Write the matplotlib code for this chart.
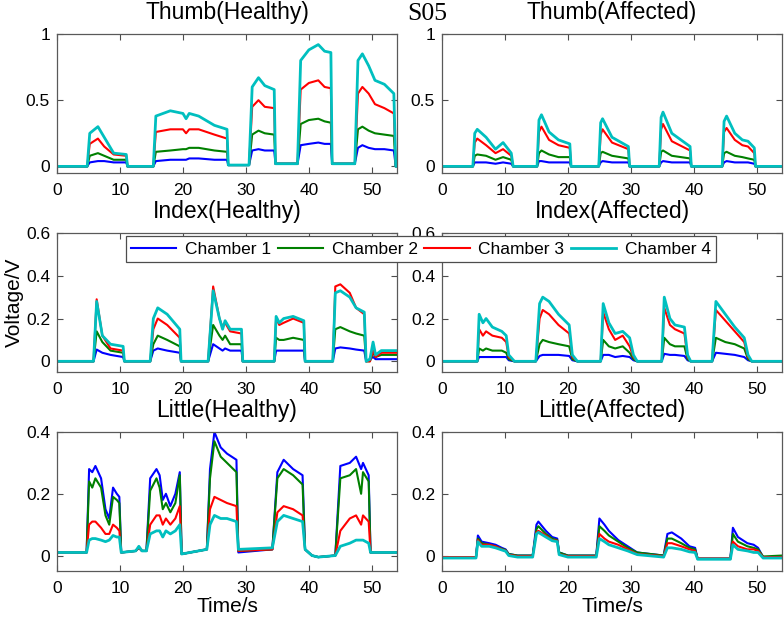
import numpy as np
import matplotlib
matplotlib.use('Agg')
import matplotlib.pyplot as plt

plt.rcParams['font.family'] = ['Liberation Sans', 'DejaVu Sans']

# ---- data (time in s, voltage in V) ----
# Thumb (Healthy)
t_th = [0, 4.8, 5.2, 6.5, 7.5, 9, 11, 11.2, 15.3, 15.7, 18, 20, 20.5, 21, 22.5, 25, 27, 27.2,
        30.5, 31, 32, 33, 34.5, 34.7, 38.2, 38.7, 40, 41.5, 42.5, 43.5, 43.7,
        47.3, 47.8, 48.5, 49.5, 50.5, 52, 53.5, 53.8, 54]
th_c1 = [0, 0, 0.03, 0.04, 0.04, 0.03, 0.03, 0, 0, 0.04, 0.05, 0.05, 0.05, 0.06, 0.06, 0.05, 0.05, 0.01,
         0.01, 0.12, 0.13, 0.12, 0.12, 0.02, 0.02, 0.16, 0.17, 0.18, 0.17, 0.17, 0.02,
         0.02, 0.14, 0.16, 0.14, 0.13, 0.13, 0.12, 0, 0]
th_c2 = [0, 0, 0.08, 0.10, 0.08, 0.05, 0.05, 0, 0, 0.11, 0.12, 0.13, 0.13, 0.14, 0.14, 0.12, 0.11, 0.01,
         0.01, 0.24, 0.27, 0.25, 0.24, 0.02, 0.02, 0.32, 0.35, 0.36, 0.34, 0.33, 0.02,
         0.02, 0.28, 0.30, 0.27, 0.25, 0.24, 0.23, 0, 0]
th_c3 = [0, 0, 0.17, 0.21, 0.15, 0.09, 0.08, 0, 0, 0.26, 0.28, 0.28, 0.25, 0.28, 0.28, 0.24, 0.21, 0.01,
         0.01, 0.45, 0.50, 0.45, 0.44, 0.02, 0.02, 0.58, 0.63, 0.65, 0.60, 0.59, 0.02,
         0.02, 0.55, 0.60, 0.55, 0.47, 0.44, 0.40, 0, 0]
th_c4 = [0, 0, 0.25, 0.30, 0.22, 0.10, 0.09, 0, 0, 0.38, 0.42, 0.40, 0.36, 0.40, 0.38, 0.31, 0.28, 0.01,
         0.01, 0.60, 0.67, 0.61, 0.58, 0.02, 0.02, 0.80, 0.88, 0.92, 0.87, 0.86, 0.02,
         0.02, 0.80, 0.85, 0.76, 0.65, 0.62, 0.55, 0, 0]

# Thumb (Affected)
t_ta = [0, 4.9, 5.2, 5.6, 7, 8.5, 9.7, 11, 11.3, 15.1, 15.4, 15.8, 17, 18.5, 20.3, 20.5,
        24.9, 25.2, 25.5, 27, 29.6, 29.8, 34.5, 34.8, 35.1, 36.5, 39.4, 39.6,
        44.5, 44.8, 45.2, 46.5, 47.7, 48.6, 49.6, 49.8, 54]
ta_c1 = [0, 0, 0.03, 0.03, 0.03, 0.02, 0.03, 0.02, 0, 0, 0.04, 0.04, 0.03, 0.03, 0.03, 0,
         0, 0.03, 0.04, 0.03, 0.03, 0, 0, 0.03, 0.04, 0.03, 0.03, 0,
         0, 0.03, 0.04, 0.03, 0.03, 0.03, 0.02, 0, 0]
ta_c2 = [0, 0, 0.08, 0.09, 0.08, 0.05, 0.07, 0.05, 0, 0, 0.10, 0.12, 0.09, 0.07, 0.07, 0,
         0, 0.10, 0.11, 0.08, 0.06, 0, 0, 0.11, 0.12, 0.08, 0.06, 0,
         0, 0.10, 0.11, 0.08, 0.07, 0.06, 0.05, 0, 0]
ta_c3 = [0, 0, 0.18, 0.21, 0.16, 0.10, 0.13, 0.08, 0, 0, 0.26, 0.30, 0.20, 0.16, 0.14, 0,
         0, 0.24, 0.28, 0.18, 0.13, 0, 0, 0.28, 0.32, 0.19, 0.12, 0,
         0, 0.26, 0.29, 0.20, 0.16, 0.15, 0.10, 0, 0]
ta_c4 = [0, 0, 0.25, 0.28, 0.22, 0.13, 0.18, 0.10, 0, 0, 0.35, 0.39, 0.26, 0.20, 0.17, 0,
         0, 0.33, 0.36, 0.22, 0.15, 0, 0, 0.37, 0.41, 0.25, 0.15, 0,
         0, 0.34, 0.38, 0.25, 0.20, 0.19, 0.14, 0, 0]

# Index (Healthy)
t_ih = [0, 5.8, 6.3, 7.2, 8.5, 10.5, 10.7, 14.8, 15.3, 16, 17.5, 19.5, 19.7,
        24, 24.8, 25.8, 26.3, 26.7, 27.5, 29.3, 29.5, 34.5, 34.8, 35.3, 36, 37.5, 39.2, 39.4,
        43.8, 44.2, 45, 46.5, 47.5, 48.8, 49.1, 49.7, 50.2, 50.6, 51.5, 54]
ih_c1 = [0, 0, 0.055, 0.04, 0.03, 0.02, 0, 0, 0.05, 0.06, 0.05, 0.04, 0,
         0, 0.08, 0.06, 0.05, 0.06, 0.05, 0.05, 0, 0, 0.05, 0.05, 0.05, 0.05, 0.05, 0,
         0, 0.06, 0.065, 0.06, 0.055, 0.05, 0, 0.01, 0.02, 0.01, 0.01, 0.01]
ih_c2 = [0, 0, 0.14, 0.09, 0.05, 0.04, 0, 0, 0.08, 0.12, 0.10, 0.07, 0,
         0, 0.17, 0.12, 0.10, 0.12, 0.08, 0.08, 0, 0, 0.11, 0.10, 0.10, 0.11, 0.10, 0,
         0, 0.15, 0.16, 0.14, 0.13, 0.12, 0, 0.0, 0.04, 0.02, 0.03, 0.03]
ih_c3 = [0, 0, 0.29, 0.12, 0.06, 0.05, 0, 0, 0.15, 0.20, 0.17, 0.11, 0,
         0, 0.35, 0.20, 0.16, 0.18, 0.14, 0.13, 0, 0, 0.20, 0.17, 0.18, 0.20, 0.18, 0,
         0, 0.35, 0.36, 0.32, 0.25, 0.22, 0, 0.0, 0.05, 0.02, 0.04, 0.04]
ih_c4 = [0, 0, 0.28, 0.12, 0.08, 0.07, 0, 0, 0.20, 0.25, 0.22, 0.15, 0,
         0, 0.33, 0.20, 0.15, 0.19, 0.15, 0.15, 0, 0, 0.21, 0.18, 0.20, 0.21, 0.19, 0,
         0, 0.32, 0.33, 0.30, 0.25, 0.23, 0, 0.01, 0.09, 0.03, 0.05, 0.05]

# Index (Affected)
t_ia = [0, 5.6, 5.9, 6.5, 7, 8, 9.5, 10.2, 10.6, 11.5, 14.9, 15.5, 16, 17, 18.5, 20.2, 20.7, 21.5,
        25.2, 25.6, 26.5, 27.5, 28.7, 29.8, 30.4, 31, 34.9, 35.3, 36.2, 37, 38.5, 39, 39.5,
        42.9, 43.5, 45, 46.5, 48, 48.6, 49.2, 54]
ia_c1 = [0, 0, 0.02, 0.02, 0.02, 0.02, 0.02, 0.02, 0.005, 0, 0, 0.025, 0.03, 0.03, 0.03, 0.025, 0.005, 0,
         0, 0.03, 0.03, 0.02, 0.025, 0.02, 0.005, 0, 0, 0.035, 0.03, 0.03, 0.025, 0.005, 0,
         0, 0.04, 0.035, 0.03, 0.02, 0.005, 0, 0]
ia_c2 = [0, 0, 0.06, 0.05, 0.06, 0.05, 0.05, 0.04, 0.01, 0, 0, 0.08, 0.10, 0.09, 0.08, 0.07, 0.01, 0,
         0, 0.10, 0.07, 0.06, 0.07, 0.04, 0.01, 0, 0, 0.11, 0.08, 0.07, 0.07, 0.01, 0,
         0, 0.11, 0.09, 0.08, 0.06, 0.01, 0, 0]
ia_c3 = [0, 0, 0.15, 0.12, 0.14, 0.12, 0.11, 0.09, 0.02, 0, 0, 0.20, 0.24, 0.22, 0.17, 0.13, 0.02, 0,
         0, 0.23, 0.15, 0.10, 0.12, 0.07, 0.02, 0, 0, 0.25, 0.17, 0.15, 0.13, 0.02, 0,
         0, 0.24, 0.19, 0.14, 0.09, 0.02, 0, 0]
ia_c4 = [0, 0, 0.22, 0.18, 0.20, 0.16, 0.14, 0.12, 0.03, 0, 0, 0.27, 0.30, 0.28, 0.22, 0.17, 0.03, 0,
         0, 0.27, 0.18, 0.13, 0.14, 0.11, 0.03, 0, 0, 0.30, 0.20, 0.17, 0.16, 0.03, 0,
         0, 0.28, 0.22, 0.16, 0.11, 0.03, 0, 0]

# Little (Healthy)
t_lh = [0, 4.7, 5.1, 5.6, 6.1, 7, 7.7, 8.3, 8.9, 9.5, 9.9, 10.2, 12.5, 13, 13.5, 14.2,
        14.8, 15.8, 16.3, 16.8, 17.3, 18, 18.8, 19.5, 19.8, 23.8, 24.3, 25, 26, 27, 28.5, 28.8,
        34.2, 35, 36, 37.5, 39, 39.4, 40.5, 41.5, 44.2, 45, 46.5, 47.5, 48.3, 48.6, 49.5, 49.8, 54]
lh_c1 = [0.01, 0.01, 0.28, 0.27, 0.29, 0.25, 0.15, 0.12, 0.22, 0.20, 0.19, 0.01, 0.015, 0.025, 0.015, 0.015,
         0.25, 0.28, 0.26, 0.18, 0.20, 0.16, 0.20, 0.27, 0.005, 0.02, 0.28, 0.40, 0.35, 0.33, 0.31, 0.01,
         0.02, 0.27, 0.31, 0.28, 0.26, 0.02, 0.0, -0.005, 0.0, 0.29, 0.30, 0.32, 0.28, 0.30, 0.26, 0.01, 0.01]
lh_c2 = [0.01, 0.01, 0.24, 0.22, 0.25, 0.22, 0.13, 0.10, 0.19, 0.18, 0.17, 0.01, 0.015, 0.025, 0.015, 0.015,
         0.21, 0.25, 0.22, 0.15, 0.17, 0.14, 0.17, 0.26, 0.005, 0.02, 0.25, 0.37, 0.32, 0.30, 0.27, 0.015,
         0.02, 0.25, 0.28, 0.26, 0.23, 0.02, 0.0, -0.005, 0.0, 0.25, 0.26, 0.28, 0.20, 0.27, 0.24, 0.01, 0.01]
lh_c3 = [0.01, 0.01, 0.10, 0.11, 0.11, 0.09, 0.07, 0.07, 0.10, 0.09, 0.08, 0.01, 0.015, 0.025, 0.015, 0.015,
         0.10, 0.13, 0.13, 0.10, 0.12, 0.10, 0.12, 0.16, 0.005, 0.02, 0.15, 0.19, 0.18, 0.17, 0.16, 0.015,
         0.02, 0.14, 0.16, 0.15, 0.13, 0.02, 0.0, -0.005, 0.0, 0.08, 0.12, 0.13, 0.10, 0.13, 0.11, 0.01, 0.01]
lh_c4 = [0.01, 0.01, 0.05, 0.055, 0.055, 0.05, 0.045, 0.05, 0.065, 0.06, 0.06, 0.01, 0.015, 0.03, 0.015, 0.015,
         0.07, 0.08, 0.08, 0.06, 0.08, 0.07, 0.08, 0.10, 0.005, 0.02, 0.10, 0.13, 0.12, 0.12, 0.11, 0.02,
         0.025, 0.11, 0.13, 0.12, 0.11, 0.02, 0.0, -0.005, 0.0, 0.03, 0.04, 0.05, 0.05, 0.05, 0.04, 0.01, 0.01]

# Little (Affected)
t_la = [0, 5.4, 5.7, 6.3, 7.5, 8.5, 9.5, 10.1, 10.6, 12, 14.4, 15, 15.3, 16.5, 17.5, 18.3, 18.6, 20,
        24.5, 25, 25.8, 26.5, 28, 29.5, 31, 35.2, 35.8, 36.5, 38, 39.3, 40.2, 40.6,
        45.8, 46.2, 47, 48.5, 49.5, 50.2, 51, 54]
la_c1 = [-0.005, -0.005, 0.065, 0.045, 0.04, 0.035, 0.025, 0.02, 0.005, 0.0, 0.0, 0.10, 0.11, 0.08, 0.06, 0.055, 0.01, 0.0,
         0.0, 0.12, 0.10, 0.08, 0.05, 0.03, 0.01, 0.0, 0.07, 0.075, 0.055, 0.03, 0.025, -0.01,
         -0.01, 0.09, 0.06, 0.04, 0.035, 0.025, -0.005, -0.005]
la_c2 = [-0.005, -0.005, 0.055, 0.04, 0.035, 0.03, 0.022, 0.018, 0.005, 0.0, 0.0, 0.085, 0.095, 0.07, 0.055, 0.05, 0.01, 0.0,
         0.0, 0.095, 0.08, 0.065, 0.045, 0.025, 0.01, 0.0, 0.055, 0.055, 0.04, 0.025, 0.02, -0.01,
         -0.01, 0.07, 0.045, 0.03, 0.025, 0.02, -0.003, 0.0]
la_c3 = [-0.005, -0.005, 0.05, 0.035, 0.035, 0.03, 0.02, 0.016, 0.003, -0.002, -0.002, 0.075, 0.08, 0.065, 0.05, 0.048, 0.005, -0.002,
         -0.002, 0.07, 0.055, 0.045, 0.035, 0.02, 0.005, -0.002, 0.04, 0.04, 0.03, 0.02, 0.015, -0.01,
         -0.01, 0.045, 0.03, 0.02, 0.02, 0.015, -0.005, -0.005]
la_c4 = [-0.008, -0.008, 0.045, 0.03, 0.03, 0.025, 0.018, 0.014, 0.0, -0.005, -0.005, 0.07, 0.075, 0.06, 0.048, 0.045, 0.003, -0.005,
         -0.005, 0.055, 0.045, 0.035, 0.025, 0.015, 0.003, -0.005, 0.025, 0.025, 0.02, 0.012, 0.01, -0.012,
         -0.012, 0.035, 0.02, 0.015, 0.01, 0.01, -0.008, -0.008]

labels = ['Chamber 1', 'Chamber 2', 'Chamber 3', 'Chamber 4']
colors = [(0, 0, 1), (0, 0.5, 0), (1, 0, 0), (0, 0.75, 0.75)]
widths = [1.5, 1.5, 1.5, 2.0]

panels = [
    ('Thumb(Healthy)', t_th, [th_c1, th_c2, th_c3, th_c4], (-0.05, 1), [0, 0.5, 1]),
    ('Thumb(Affected)', t_ta, [ta_c1, ta_c2, ta_c3, ta_c4], (-0.05, 1), [0, 0.5, 1]),
    ('Index(Healthy)', t_ih, [ih_c1, ih_c2, ih_c3, ih_c4], (-0.05, 0.6), [0, 0.2, 0.4, 0.6]),
    ('Index(Affected)', t_ia, [ia_c1, ia_c2, ia_c3, ia_c4], (-0.05, 0.6), [0, 0.2, 0.4, 0.6]),
    ('Little(Healthy)', t_lh, [lh_c1, lh_c2, lh_c3, lh_c4], (-0.05, 0.4), [0, 0.2, 0.4]),
    ('Little(Affected)', t_la, [la_c1, la_c2, la_c3, la_c4], (-0.05, 0.4), [0, 0.2, 0.4]),
]

W, H = 784, 617
fig = plt.figure(figsize=(W / 100, H / 100), dpi=100)

lefts = [57, 442]
tops = [34, 233, 432]
aw, ah = 340, 139

handles = None
for i, (title, t, series, ylim, yt) in enumerate(panels):
    r, c = divmod(i, 2)
    ax = fig.add_axes([lefts[c] / W, 1 - (tops[r] + ah) / H, aw / W, ah / H])
    hs = []
    for y, col, lw, lab in zip(series, colors, widths, labels):
        h, = ax.plot(t, y, color=col, lw=lw, label=lab)
        hs.append(h)
    handles = hs
    ax.set_xlim(0, 54)
    ax.set_ylim(*ylim)
    ax.set_xticks([0, 10, 20, 30, 40, 50])
    ax.set_yticks(yt)
    ax.set_yticklabels(['%g' % v for v in yt])
    ax.tick_params(direction='in', top=True, right=True, labelsize=12.5,
                   length=4, width=0.8, color='0.3')
    ax.tick_params(axis='x', pad=7)
    ax.tick_params(axis='y', pad=5)
    for s in ax.spines.values():
        s.set_color('0.35')
        s.set_linewidth(0.9)
    ax.set_title(title, fontsize=16.5, pad=11)
    if r == 2:
        ax.set_xlabel('Time/s', fontsize=15, labelpad=1)

fig.text(0.006, 1 - (tops[1] + ah / 2) / H, 'Voltage/V', rotation=90,
         fontsize=15, va='center', ha='left')
fig.text(407 / W, 1 - 14 / H, 'S05', family='Liberation Serif', fontsize=18.5,
         va='center', ha='left')

leg = fig.legend(handles, labels, loc='lower left', ncol=4, mode='expand',
                 bbox_to_anchor=(126 / W, 1 - 262 / H, 590 / W, 30 / H),
                 borderaxespad=0, fontsize=12.5, handlelength=2.6,
                 fancybox=False, framealpha=1, edgecolor='0.3',
                 columnspacing=0.8, handletextpad=0.5, borderpad=0.3)
leg.get_frame().set_linewidth(0.9)

fig.savefig('out.png', dpi=100)
